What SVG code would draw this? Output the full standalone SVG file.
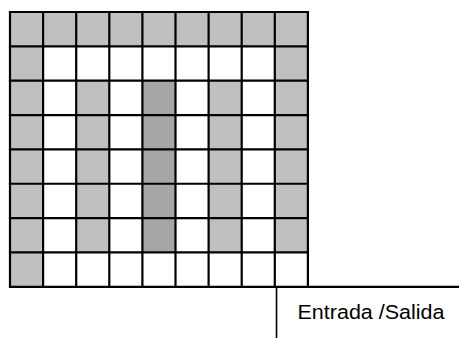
<svg xmlns="http://www.w3.org/2000/svg" width="459" height="338" viewBox="0 0 459 338">
<style>
.g{fill:#C0C0C0}
.d{fill:#A6A6A6}
.ln{stroke:#000;stroke-width:2.2;fill:none}
.t{font-family:"Liberation Sans",Arial,sans-serif;font-size:20.5px;fill:#000}
</style>
<rect width="459" height="338" fill="#fff"/>
<g id="cells">
<rect class="g" x="10" y="12" width="297.9" height="34.35"/>
<rect class="g" x="10" y="46.35" width="33.1" height="206.1"/>
<rect class="g" x="274.8" y="46.35" width="33.1" height="206.1"/>
<rect class="g" x="76.2" y="80.7" width="33.1" height="171.75"/>
<rect class="g" x="208.6" y="80.7" width="33.1" height="171.75"/>
<rect class="d" x="142.4" y="80.7" width="33.1" height="171.75"/>
<rect class="g" x="10" y="252.45" width="33.1" height="34.35"/>
</g>
<g id="connectors">
<path class="ln" d="M10,12V286.8M43.1,12V286.8M76.2,12V286.8M109.3,12V286.8M142.4,12V286.8M175.5,12V286.8M208.6,12V286.8M241.7,12V286.8M274.8,12V286.8M307.9,12V286.8"/>
<path class="ln" d="M8.9,12H309M8.9,46.35H309M8.9,80.7H309M8.9,115.05H309M8.9,149.4H309M8.9,183.75H309M8.9,218.1H309M8.9,252.45H309M8.9,286.8H459"/>
<path d="M276.5,287.8V338" stroke="#000" stroke-width="1.6"/>
</g>
<g id="label">
<text class="t" x="297.5" y="319" textLength="147" lengthAdjust="spacingAndGlyphs">Entrada /Salida</text>
</g>
</svg>
